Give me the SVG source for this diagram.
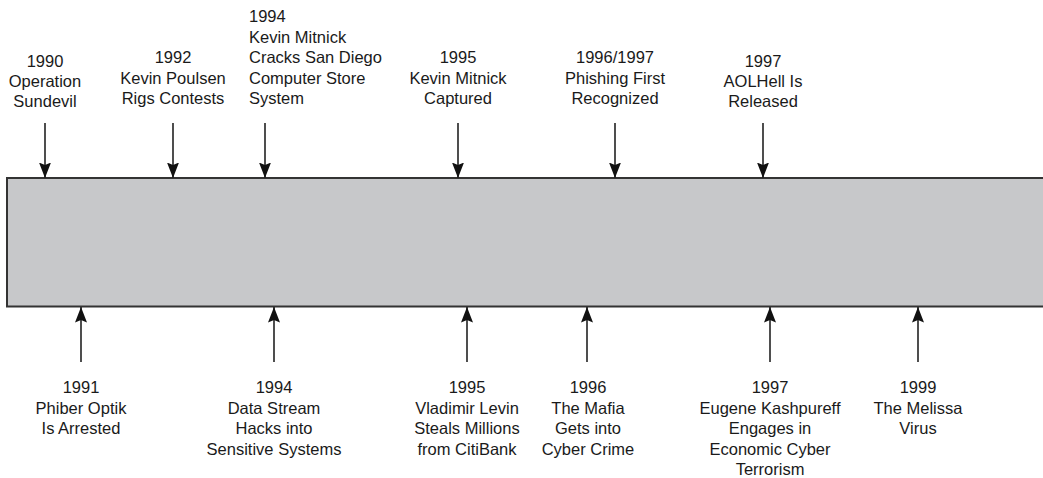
<svg xmlns="http://www.w3.org/2000/svg" width="1043" height="478" viewBox="0 0 1043 478">
<style>
text{font-family:"Liberation Sans",Arial,sans-serif;font-size:16.5px;fill:#1a1a1a}
.c{text-anchor:middle}
.ar{stroke:#222;stroke-width:1.6;fill:none;marker-end:url(#ah)}
</style>
<defs>
<marker id="ah" markerUnits="userSpaceOnUse" markerWidth="16" markerHeight="13" viewBox="0 0 16 13" refX="15.5" refY="6.5" orient="auto">
<path d="M0,0.5 L15.5,6.5 L0,12.5 L2.5,6.5 z" fill="#111"/>
</marker>
</defs>
<rect id="timeline" x="7" y="178" width="1045" height="128.5" fill="#c7c8ca" stroke="#333" stroke-width="2"/>
<g id="connectors">
<line class="ar" x1="45" y1="123" x2="45" y2="178"/>
<line class="ar" x1="173" y1="123" x2="173" y2="178"/>
<line class="ar" x1="265" y1="123" x2="265" y2="178"/>
<line class="ar" x1="458" y1="123" x2="458" y2="178"/>
<line class="ar" x1="615" y1="123" x2="615" y2="178"/>
<line class="ar" x1="763" y1="123" x2="763" y2="178"/>
<line class="ar" x1="81" y1="362" x2="81" y2="307"/>
<line class="ar" x1="274" y1="362" x2="274" y2="307"/>
<line class="ar" x1="467" y1="362" x2="467" y2="307"/>
<line class="ar" x1="587" y1="362" x2="587" y2="307"/>
<line class="ar" x1="770" y1="362" x2="770" y2="307"/>
<line class="ar" x1="918" y1="362" x2="918" y2="307"/>
</g>
<g id="e1990" class="c"><text x="45" y="67">1990</text><text x="45" y="87">Operation</text><text x="45" y="107">Sundevil</text></g>
<g id="e1992" class="c"><text x="173" y="63">1992</text><text x="173" y="83.5">Kevin Poulsen</text><text x="173" y="104">Rigs Contests</text></g>
<g id="e1994a"><text x="249" y="22">1994</text><text x="249" y="42.5">Kevin Mitnick</text><text x="249" y="63">Cracks San Diego</text><text x="249" y="83.5">Computer Store</text><text x="249" y="104">System</text></g>
<g id="e1995a" class="c"><text x="458" y="63">1995</text><text x="458" y="83.5">Kevin Mitnick</text><text x="458" y="104">Captured</text></g>
<g id="e1996a" class="c"><text x="615" y="63">1996/1997</text><text x="615" y="83.5">Phishing First</text><text x="615" y="104">Recognized</text></g>
<g id="e1997a" class="c"><text x="763" y="67">1997</text><text x="763" y="87">AOLHell Is</text><text x="763" y="107">Released</text></g>
<g id="e1991" class="c"><text x="81" y="393">1991</text><text x="81" y="413.5">Phiber Optik</text><text x="81" y="434">Is Arrested</text></g>
<g id="e1994b" class="c"><text x="274" y="393">1994</text><text x="274" y="413.5">Data Stream</text><text x="274" y="434">Hacks into</text><text x="274" y="454.5">Sensitive Systems</text></g>
<g id="e1995b" class="c"><text x="467" y="393">1995</text><text x="467" y="413.5">Vladimir Levin</text><text x="467" y="434">Steals Millions</text><text x="467" y="454.5">from CitiBank</text></g>
<g id="e1996b" class="c"><text x="588" y="393">1996</text><text x="588" y="413.5">The Mafia</text><text x="588" y="434">Gets into</text><text x="588" y="454.5">Cyber Crime</text></g>
<g id="e1997b" class="c"><text x="770" y="393">1997</text><text x="770" y="413.5">Eugene Kashpureff</text><text x="770" y="434">Engages in</text><text x="770" y="454.5">Economic Cyber</text><text x="770" y="475">Terrorism</text></g>
<g id="e1999" class="c"><text x="918" y="393">1999</text><text x="918" y="413.5">The Melissa</text><text x="918" y="434">Virus</text></g>
</svg>
